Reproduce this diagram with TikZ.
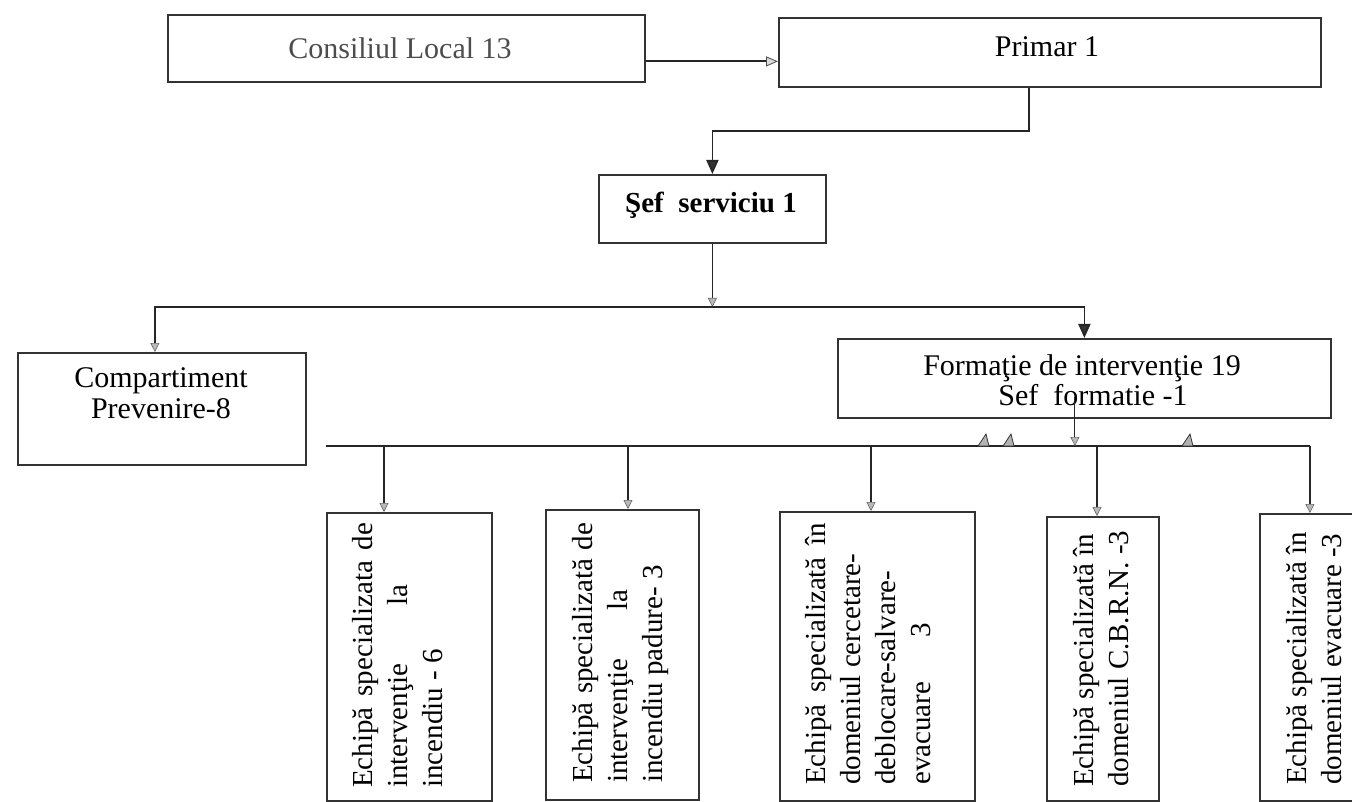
\documentclass[tikz,border=0pt]{standalone}
\usepackage{fontspec}
\setmainfont{Liberation Serif}
\usetikzlibrary{arrows.meta}
\begin{document}
\begin{tikzpicture}[x=1pt,y=-1pt,
  box/.style={draw=black!80, line width=1.8pt, inner sep=0pt, anchor=north west},
  ln/.style={draw=black!85, line width=1.8pt},
  thinln/.style={draw=black!85, line width=1.1pt},
  ga/.style={-{Triangle[length=9pt,width=9pt,fill=gray!55,color=black!60,line width=0.6pt]}},
  oa/.style={-{Triangle[length=12pt,width=10pt,fill=gray!30,color=black!70,line width=0.8pt]}},
  da/.style={-{Triangle[length=14pt,width=12pt,fill=black!80]}},
  htxt/.style={inner sep=0pt, font=\fontsize{30}{30}\selectfont},
  vtxt/.style={rotate=90, anchor=north west, inner sep=0pt, align=left, font=\fontsize{29}{35}\selectfont},
  blob/.style={fill=gray!60, draw=black!80, line width=0.8pt},
]
\useasboundingbox (0,0) rectangle (1352,802);
\begin{scope}
\clip (0,0) rectangle (1352,802);
% boxes
\node[box, minimum width=477pt, minimum height=67pt] (cl) at (167,14) {};
\node[box, minimum width=542pt, minimum height=69pt] (pr) at (778,17) {};
\node[box, minimum width=227pt, minimum height=68pt] (sef) at (598,174) {};
\node[box, minimum width=288pt, minimum height=112pt] (comp) at (17,352) {};
\node[box, minimum width=493pt, minimum height=79pt] (form) at (837,338) {};
\node[box, minimum width=165pt, minimum height=288pt] (b1) at (326,512) {};
\node[box, minimum width=153pt, minimum height=290pt] (b2) at (545,509) {};
\node[box, minimum width=195pt, minimum height=289pt] (b3) at (779,511) {};
\node[box, minimum width=112pt, minimum height=284pt] (b4) at (1046,516) {};
\node[box, minimum width=100pt, minimum height=287pt] (b5) at (1259,513) {};

% texts
\node[htxt, text=black!70] (clt) at (400,48) {Consiliul Local 13};
\node[htxt] (prt) at (1047,47) {Primar 1};
\node[htxt, anchor=base, font=\fontsize{29}{29}\selectfont\bfseries] (seft) at (711,213) {Şef\ \ serviciu 1};
\node[htxt, anchor=base] (ct1) at (161,387) {Compartiment};
\node[htxt, anchor=base] (ct2) at (161,418) {Prevenire-8};
\node[htxt, anchor=base] (ft1) at (1082,375) {Formaţie de intervenţie 19};
\node[htxt, anchor=base] (ft2) at (1093,405) {Sef\ \ formatie -1};

\node[vtxt] (bt1) at (352,788) {\makebox[265pt][s]{Echipă specializata de}\\ \makebox[203pt][s]{intervenţie la}\\ incendiu - 6};
\node[vtxt] (bt2) at (572,783) {\makebox[260pt][s]{Echipă specializată de}\\ \makebox[193pt][s]{intervenţie la}\\ incendiu padure- 3};
\node[vtxt] (bt3) at (805,785) {\makebox[262pt][s]{Echipă specializată în}\\ domeniul cercetare-\\ deblocare-salvare-\\ \makebox[162pt][s]{evacuare 3}};
\node[vtxt] (bt4) at (1073,787) {Echipă specializată în\\ domeniul C.B.R.N. -3};
\node[vtxt] (bt5) at (1286,785) {Echipă specializată în\\ domeniul evacuare -3};

% connectors
\draw[ln, oa] ([yshift=-13pt]cl.east) -- ([yshift=-13pt]cl.east -| pr.west);
\draw[ln, da] ([xshift=-21pt]pr.south) -- ++(0,43) -| (sef.north);

\coordinate (busL) at (154,307);
\coordinate (busM) at (sef.south |- busL);
\draw[thinln, ga] (sef.south) -- (busM);
\draw[ln, ga] (busM) -| ([xshift=-7pt]comp.north);
\draw[ln, da] (busM) -| (form.north);

\coordinate (bus2L) at (326,446);
\coordinate (t1) at (384,446);
\coordinate (t2) at (628,446);
\coordinate (t3) at (871,446);
\coordinate (t4) at (1097,446);
\coordinate (t5) at (b5.north |- bus2L);
\draw[ln] (bus2L) -- (t5);
\draw[thinln, ga] ([xshift=-9.5pt,yshift=22pt]form.south) -- ([xshift=-9.5pt]form.south |- bus2L);
\draw[thinln, ga] (t1) -- (t1 |- b1.north);
\draw[thinln, ga] (t2) -- (t2 |- b2.north);
\draw[thinln, ga] (t3) -- (t3 |- b3.north);
\draw[ln, ga] (t4) -- (t4 |- b4.north);
\draw[ln, ga] (t5) -- (b5.north);

% small marks on the lower line
\filldraw[blob] (978,446) -- (989,446) -- (986,434) -- cycle;
\filldraw[blob] (1003,446) -- (1014,446) -- (1011,434) -- cycle;
\filldraw[blob] (1182,446) -- (1193,446) -- (1190,434) -- cycle;
\end{scope}
\end{tikzpicture}
\end{document}
